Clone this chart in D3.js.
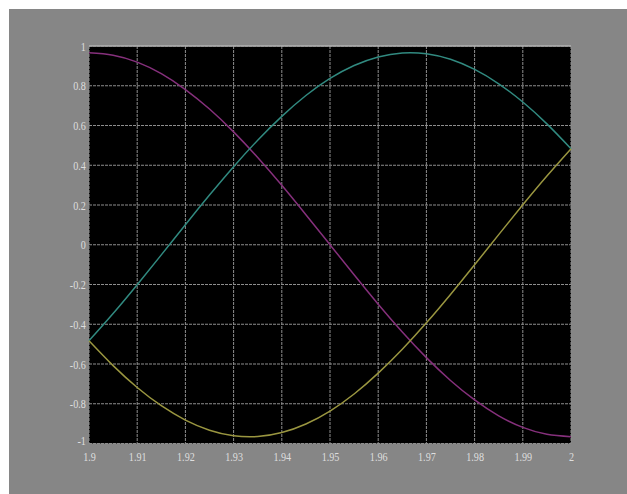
<!DOCTYPE html>
<html>
<head>
<meta charset="utf-8">
<script src="https://cdn.jsdelivr.net/npm/d3@7"></script>
<style>
  html, body { margin: 0; padding: 0; background: #ffffff; }
  svg { display: block; }
</style>
</head>
<body>
<svg id="chart" width="627" height="494"></svg>
<script>
// ---- data ----
const times = [1.900, 1.905, 1.910, 1.915, 1.920, 1.925, 1.930, 1.935, 1.940, 1.945, 1.950,
               1.955, 1.960, 1.965, 1.970, 1.975, 1.980, 1.985, 1.990, 1.995, 2.000];
const magentaValues = [0.966, 0.954, 0.919, 0.861, 0.781, 0.683, 0.568, 0.439, 0.299, 0.151, 0.0,
                       -0.151, -0.299, -0.439, -0.568, -0.683, -0.781, -0.861, -0.919, -0.954, -0.966];
const cyanValues = [-0.483, -0.346, -0.201, -0.051, 0.101, 0.250, 0.393, 0.526, 0.646, 0.751, 0.837,
                    0.902, 0.945, 0.965, 0.961, 0.933, 0.882, 0.810, 0.718, 0.608, 0.483];
const yellowValues = [-0.483, -0.608, -0.718, -0.810, -0.882, -0.933, -0.961, -0.965, -0.945, -0.902, -0.837,
                      -0.751, -0.646, -0.526, -0.393, -0.250, -0.101, 0.051, 0.201, 0.346, 0.483];
const xTicks = [1.90, 1.91, 1.92, 1.93, 1.94, 1.95, 1.96, 1.97, 1.98, 1.99, 2.00];
const xTickLabels = ["1.9", "1.91", "1.92", "1.93", "1.94", "1.95", "1.96", "1.97", "1.98", "1.99", "2"];
const yTicks = [1, 0.8, 0.6, 0.4, 0.2, 0, -0.2, -0.4, -0.6, -0.8, -1];
const yTickLabels = ["1", "0.8", "0.6", "0.4", "0.2", "0", "-0.2", "-0.4", "-0.6", "-0.8", "-1"];

const seriesList = [
  { name: "magenta", values: magentaValues, color: "#86307c" },
  { name: "cyan", values: cyanValues, color: "#318a80" },
  { name: "yellow", values: yellowValues, color: "#9a9640" }
];

// ---- layout ----
const svg = d3.select("#chart");
const W = 627, H = 494;
const plot = { left: 89, right: 571, top: 46, bottom: 443.5 };

svg.append("rect").attr("x", 9).attr("y", 9).attr("width", W - 9).attr("height", H - 9)
  .attr("fill", "#868686");

const x = d3.scaleLinear().domain([1.9, 2.0]).range([plot.left, plot.right]);
const y = d3.scaleLinear().domain([-1, 1]).range([plot.bottom, plot.top]);

svg.append("rect")
  .attr("x", plot.left).attr("y", plot.top)
  .attr("width", plot.right - plot.left).attr("height", plot.bottom - plot.top)
  .attr("fill", "#000000");

// grid
const grid = svg.append("g");
grid.selectAll("line.vx").data(xTicks).join("line")
  .attr("x1", d => x(d)).attr("x2", d => x(d))
  .attr("y1", plot.top).attr("y2", plot.bottom)
  .attr("stroke", "#8e8e8e").attr("stroke-width", 1).attr("stroke-dasharray", "3,1");
grid.selectAll("line.hy").data(yTicks).join("line")
  .attr("x1", plot.left).attr("x2", plot.right)
  .attr("y1", d => y(d)).attr("y2", d => y(d))
  .attr("stroke", "#8e8e8e").attr("stroke-width", 1).attr("stroke-dasharray", "3,1");

// top border
svg.append("line").attr("x1", plot.left).attr("x2", plot.right)
  .attr("y1", plot.top).attr("y2", plot.top)
  .attr("stroke", "#b0b0b0").attr("stroke-width", 1.5);

// curves
const line = d3.line()
  .x((d, i) => x(times[i]))
  .y(d => y(d))
  .curve(d3.curveNatural);

svg.append("g").selectAll("path").data(seriesList).join("path")
  .attr("d", s => line(s.values))
  .attr("fill", "none")
  .attr("stroke", s => s.color)
  .attr("stroke-width", 1.5);

// axes (labels only)
const xAxis = d3.axisBottom(x).tickValues(xTicks)
  .tickFormat((d, i) => xTickLabels[i]).tickSize(0).tickPadding(8);
const gx = svg.append("g").attr("transform", `translate(0,${plot.bottom})`).call(xAxis);
gx.select(".domain").remove();
gx.selectAll("text")
  .attr("fill", "#dedede")
  .attr("transform", "scale(0.78,1)")
  .style("font-family", "'Liberation Serif', serif")
  .style("font-size", "13px");

const yAxis = d3.axisLeft(y).tickValues(yTicks)
  .tickFormat((d, i) => yTickLabels[i]).tickSize(0).tickPadding(4);
const gy = svg.append("g").attr("transform", `translate(${plot.left},0)`).call(yAxis);
gy.select(".domain").remove();
gy.selectAll("text")
  .attr("fill", "#dedede")
  .attr("transform", "scale(0.78,1)")
  .style("font-family", "'Liberation Serif', serif")
  .style("font-size", "13px");
gy.selectAll(".tick").filter(d => d === -1).select("text").attr("dy", "0.1em");
</script>
</body>
</html>
